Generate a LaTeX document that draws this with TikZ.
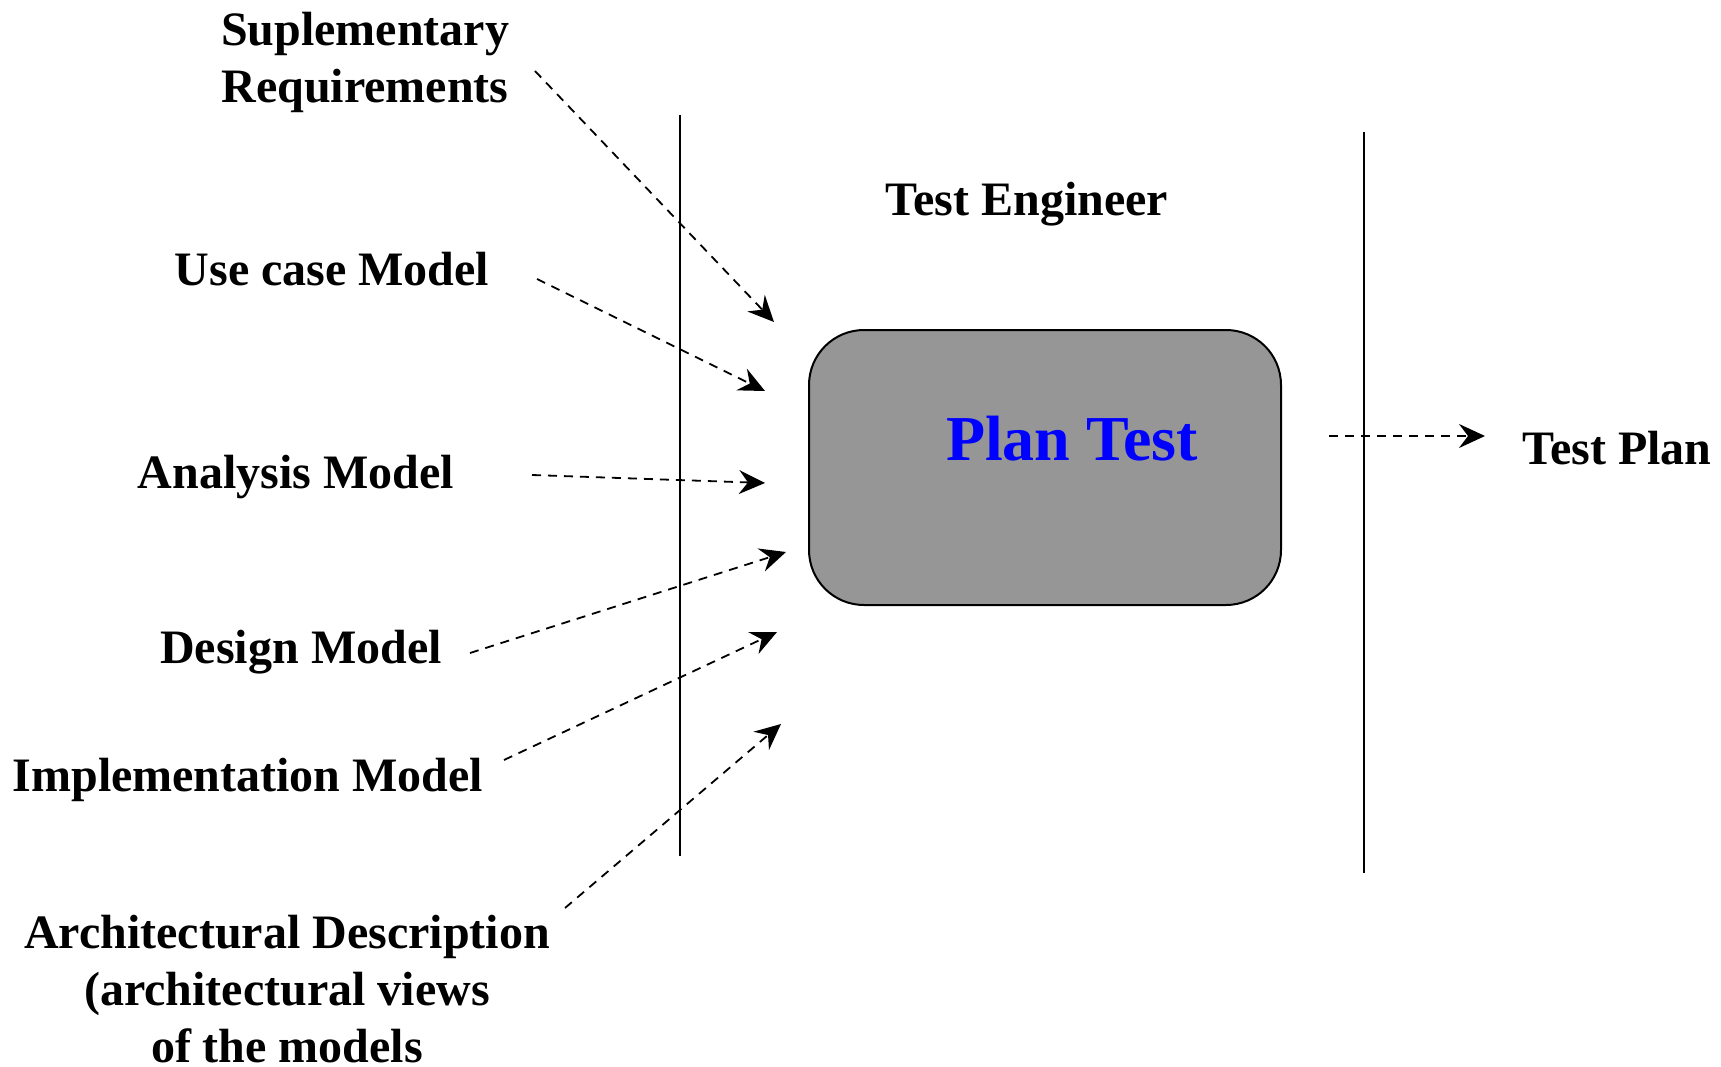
\documentclass[tikz,border=0pt]{standalone}
\usepackage{fontspec}
\setmainfont{Liberation Serif}
\usetikzlibrary{arrows.meta}
\definecolor{boxgray}{RGB}{150,150,150}
\definecolor{planblue}{RGB}{0,0,255}
\begin{document}
\begin{tikzpicture}[x=1pt,y=-1pt,
  lbl/.style={font=\fontsize{48}{57}\selectfont\bfseries, inner sep=0pt, align=center},
  flow/.style={line width=1.8pt, dash pattern=on 9pt off 7pt,
    -{Stealth[length=26pt,width=24pt,inset=9pt]}},
  lane/.style={line width=2pt},
  act/.style={draw, line width=2pt, fill=boxgray, rounded corners=55pt, minimum width=472pt, minimum height=275pt, inner sep=0pt}
]
\useasboundingbox (0,0) rectangle (1721,1067);
% swimlane lines
\coordinate (l1t) at (680,115); \coordinate (l1b) at (680,856);
\coordinate (l2t) at (1364,132); \coordinate (l2b) at (1364,873);
\draw[lane] (l1t) -- (l1b);
\draw[lane] (l2t) -- (l2b);
% activity
\node[act] (plan) at (1045,467.5) {};
\node[lbl, text=planblue, font=\fontsize{64}{70}\selectfont\bfseries] (plantxt) at (1072,439) {Plan Test};
\node[lbl] (eng) at (1027,204.5) {Test Engineer};
% labels
\node[lbl] (supp) at (365,62.5) {Suplementary\\Requirements};
\node[lbl] (ucm) at (332,269) {Use case Model};
\node[lbl] (anm) at (296,477.5) {Analysis Model};
\node[lbl] (dsm) at (301,652.5) {Design Model};
\node[lbl] (imm) at (248,779.5) {Implementation Model};
\node[lbl] (arch) at (287,989.5) {Architectural Description\\(architectural views\hspace{10pt}\\of the models};
\node[lbl] (tplan) at (1617,448) {Test Plan};
% arrow end points
\coordinate (s1) at (535,71);  \coordinate (e1) at (774,322);
\coordinate (s2) at (537,279); \coordinate (e2) at (765,391);
\coordinate (s3) at (532,475); \coordinate (e3) at (765,483);
\coordinate (s4) at (470,653); \coordinate (e4) at (786,552);
\coordinate (s5) at (504,760); \coordinate (e5) at (777,632);
\coordinate (s6) at (565,908); \coordinate (e6) at (781,724);
\coordinate (s7) at (1329,436); \coordinate (e7) at (1485,436);
\draw[flow] (s1) -- (e1);
\draw[flow] (s2) -- (e2);
\draw[flow] (s3) -- (e3);
\draw[flow] (s4) -- (e4);
\draw[flow] (s5) -- (e5);
\draw[flow] (s6) -- (e6);
\draw[flow] (s7) -- (e7);
\end{tikzpicture}
\end{document}
